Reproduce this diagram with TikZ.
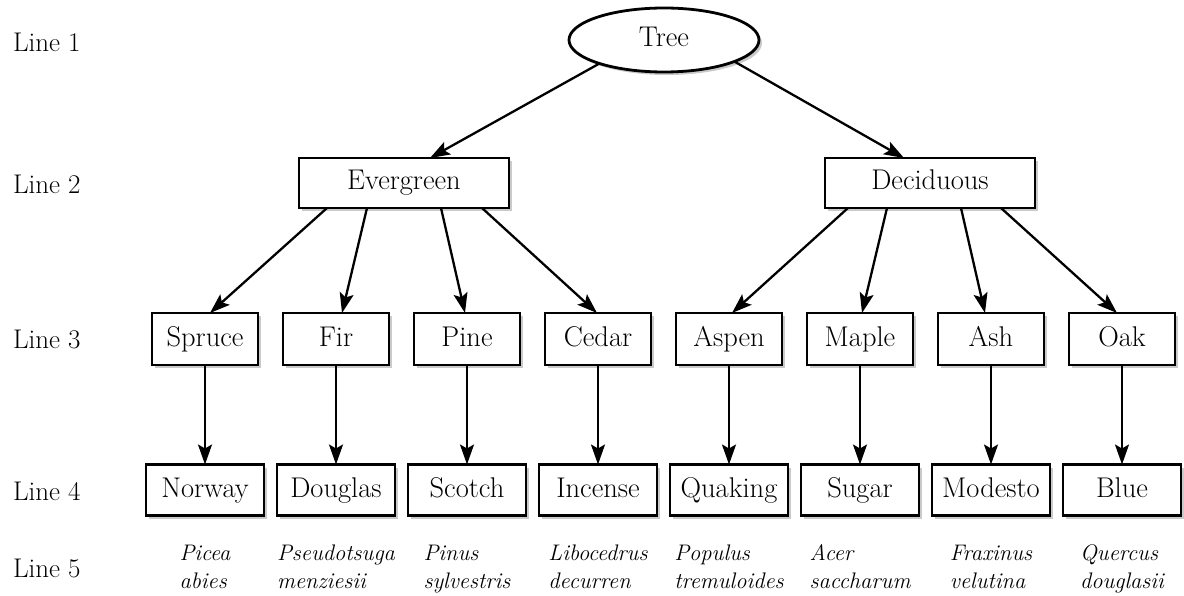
\documentclass[tikz,border=0pt]{standalone}
\usetikzlibrary{arrows.meta,shapes.geometric,shadows}
\begin{document}
\begin{tikzpicture}[x=1pt,y=-1pt,
  every node/.style={inner sep=0pt, outer sep=0pt},
  shadowed/.style={drop shadow={shadow xshift=3pt,shadow yshift=-3pt,fill=black!35,opacity=0.6}},
  framed/.style={draw, line width=2.8pt, fill=white, shadowed,
    font=\fontsize{28.5}{32}\selectfont, text height=20pt, text depth=6pt},
  rootnode/.style={framed, ellipse, minimum width=190pt, minimum height=64pt},
  catbox/.style={framed, minimum width=210pt, minimum height=50pt},
  genusbox/.style={framed, minimum width=106pt, minimum height=52pt},
  kindbox/.style={framed, minimum width=118pt, minimum height=51pt},
  linelabel/.style={anchor=west, font=\fontsize{27}{32}\selectfont},
  latin/.style={anchor=base, font=\fontsize{22.5}{28}\selectfont\itshape},
  link/.style={-{Stealth[length=20pt,width=14pt,inset=4pt]}, line width=2.3pt},
]
\useasboundingbox (0,0) rectangle (1184,596);

% row labels
\node[linelabel] (l1) at (13,42)  {Line 1};
\node[linelabel] (l2) at (13,184) {Line 2};
\node[linelabel] (l3) at (13,339) {Line 3};
\node[linelabel] (l4) at (13,491) {Line 4};
\node[linelabel, anchor=base west] (l5) at (13,577) {Line 5};

% root and categories
\node[rootnode] (tree) at (664,40) {Tree};
\node[catbox] (ever)  at (404,183) {Evergreen};
\node[catbox] (decid) at (930,183) {Deciduous};

% genera
\node[genusbox] (spruce) at (205,339)  {Spruce};
\node[genusbox] (fir)    at (336,339)  {Fir};
\node[genusbox] (pine)   at (467,339)  {Pine};
\node[genusbox] (cedar)  at (598,339)  {Cedar};
\node[genusbox] (aspen)  at (729,339)  {Aspen};
\node[genusbox] (maple)  at (860,339)  {Maple};
\node[genusbox] (ash)    at (991,339)  {Ash};
\node[genusbox] (oak)    at (1122,339) {Oak};

% kinds
\node[kindbox] (norway)  at (205,490)  {Norway};
\node[kindbox] (douglas) at (336,490)  {Douglas};
\node[kindbox] (scotch)  at (467,490)  {Scotch};
\node[kindbox] (incense) at (598,490)  {Incense};
\node[kindbox] (quaking) at (729,490)  {Quaking};
\node[kindbox] (sugar)   at (860,490)  {Sugar};
\node[kindbox] (modesto) at (991,490)  {Modesto};
\node[kindbox] (blue)    at (1122,490) {Blue};

% botanical names
\node[latin] (n1) at (205,560)  {\begin{tabular}[t]{@{}l@{}}Picea\\abies\end{tabular}};
\node[latin] (n2) at (336,560)  {\begin{tabular}[t]{@{}l@{}}Pseudotsuga\\menziesii\end{tabular}};
\node[latin] (n3) at (467,560)  {\begin{tabular}[t]{@{}l@{}}Pinus\\sylvestris\end{tabular}};
\node[latin] (n4) at (598,560)  {\begin{tabular}[t]{@{}l@{}}Libocedrus\\decurren\end{tabular}};
\node[latin] (n5) at (729,560)  {\begin{tabular}[t]{@{}l@{}}Populus\\tremuloides\end{tabular}};
\node[latin] (n6) at (860,560)  {\begin{tabular}[t]{@{}l@{}}Acer\\saccharum\end{tabular}};
\node[latin] (n7) at (991,560)  {\begin{tabular}[t]{@{}l@{}}Fraxinus\\velutina\end{tabular}};
\node[latin] (n8) at (1122,560) {\begin{tabular}[t]{@{}l@{}}Quercus\\douglasii\end{tabular}};

% connectors
\draw[link] (tree.-160) -- ([xshift=26pt]ever.north);
\draw[link] (tree.-17)  -- ([xshift=-26pt]decid.north);

\draw[link] ([xshift=-77pt]ever.south) -- ([xshift=5pt]spruce.north);
\draw[link] ([xshift=-37pt]ever.south) -- ([xshift=6pt]fir.north);
\draw[link] ([xshift=37pt]ever.south)  -- ([xshift=-2pt]pine.north);
\draw[link] ([xshift=78pt]ever.south)  -- ([xshift=-1pt]cedar.north);

\draw[link] ([xshift=-82pt]decid.south) -- ([xshift=3pt]aspen.north);
\draw[link] ([xshift=-43pt]decid.south) -- ([xshift=2pt]maple.north);
\draw[link] ([xshift=31pt]decid.south)  -- ([xshift=-6pt]ash.north);
\draw[link] ([xshift=71pt]decid.south)  -- ([xshift=-5pt]oak.north);

\draw[link] (spruce) -- (norway);
\draw[link] (fir)    -- (douglas);
\draw[link] (pine)   -- (scotch);
\draw[link] (cedar)  -- (incense);
\draw[link] (aspen)  -- (quaking);
\draw[link] (maple)  -- (sugar);
\draw[link] (ash)    -- (modesto);
\draw[link] (oak)    -- (blue);
\end{tikzpicture}
\end{document}
